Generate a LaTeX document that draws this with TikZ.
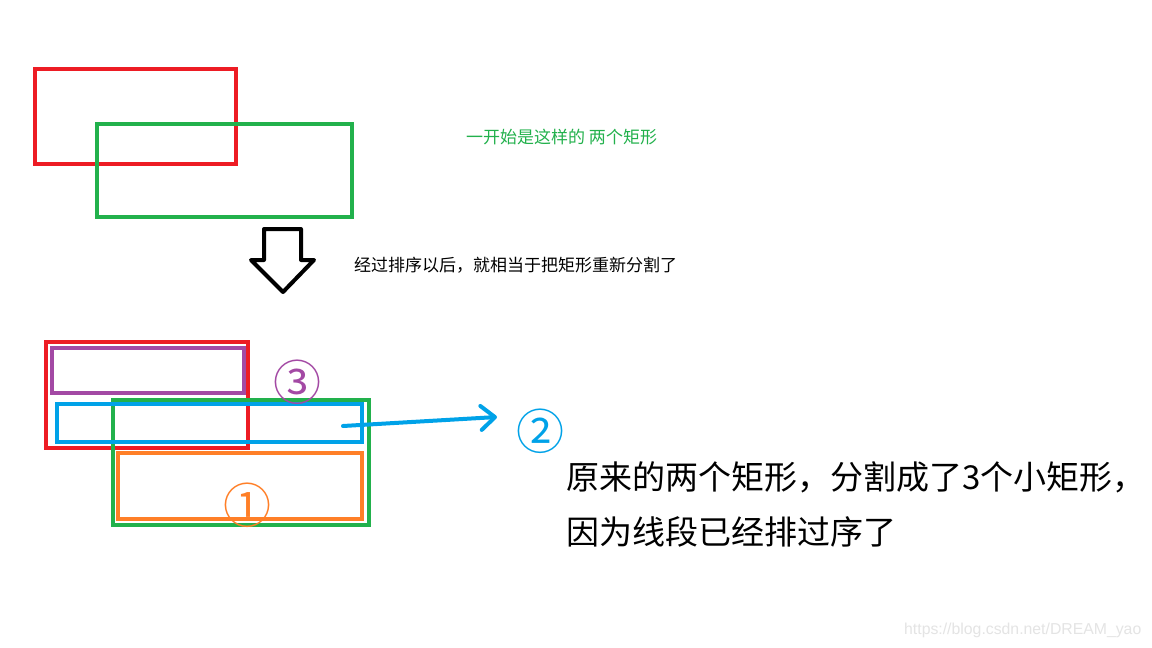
\documentclass[tikz,border=0pt]{standalone}
\usepackage{fontspec}
\setmainfont{Liberation Sans}
\newfontfamily\cjk{Noto Sans CJK SC}
\usetikzlibrary{arrows.meta}
\definecolor{pred}{RGB}{237,28,36}
\definecolor{pgreen}{RGB}{34,177,76}
\definecolor{pblue}{RGB}{0,162,232}
\definecolor{porange}{RGB}{255,127,39}
\definecolor{ppurple}{RGB}{163,73,164}
\definecolor{wmark}{RGB}{228,228,228}
\begin{document}
\begin{tikzpicture}[x=1pt,y=-1pt,
  frame/.style={draw,line width=4.5pt},
  circnum/.style={inner sep=0,font=\cjk\fontsize{48}{48}\selectfont},
  lbl/.style={anchor=west,inner sep=0}]
\useasboundingbox (0,0) rectangle (1152,648);
\fill[white] (0,0) rectangle (1152,648);
% top rectangles
\draw[frame,pred] (35,69) rectangle (236,164);
\draw[frame,pgreen] (97,124) rectangle (352,217);
% down arrow
\draw[line width=4pt,line join=round] (264,229) -- (301,229) -- (301,260) -- (314,260) -- (283,292) -- (251,260) -- (264,260) -- cycle;
% bottom rectangles
\draw[frame,pred] (46,342) rectangle (248,448);
\draw[frame,pgreen] (113,400) rectangle (369,525);
\draw[frame,ppurple] (52,348) rectangle (244,393);
\draw[frame,pblue] (57,404) rectangle (362,442);
\draw[frame,porange] (118,453) rectangle (362,519);
% circled numbers
\node[circnum,text=ppurple] (n3) at (297,382) {③};
\node[circnum,text=porange] (n1) at (247,505) {①};
\node[circnum,text=pblue] (n2) at (540,431) {②};
% blue arrow
\coordinate (bs) at (343,426);
\coordinate (be) at (497,417);
\draw[pblue,line width=4pt,line cap=round,-{Straight Barb[length=14pt,width=24pt,line width=4pt,round]}] (bs) -- (be);
% texts
\node[lbl,text=pgreen,font=\cjk\fontsize{17}{17}\selectfont] (t1) at (466,137) {一开始是这样的 两个矩形};
\node[lbl,font=\cjk\fontsize{17}{17}\selectfont] (t2) at (354,265) {经过排序以后，就相当于把矩形重新分割了};
\node[lbl,font=\cjk\fontsize{33}{33}\selectfont] (t3) at (566,477) {原来的两个矩形，分割成了3个小矩形，};
\node[lbl,font=\cjk\fontsize{33}{33}\selectfont] (t4) at (566,532) {因为线段已经排过序了};
\node[lbl,text=wmark,font=\fontsize{15.8}{15.8}\selectfont] (wm) at (904,630) {https://blog.csdn.net/DREAM\_yao};
\end{tikzpicture}
\end{document}
